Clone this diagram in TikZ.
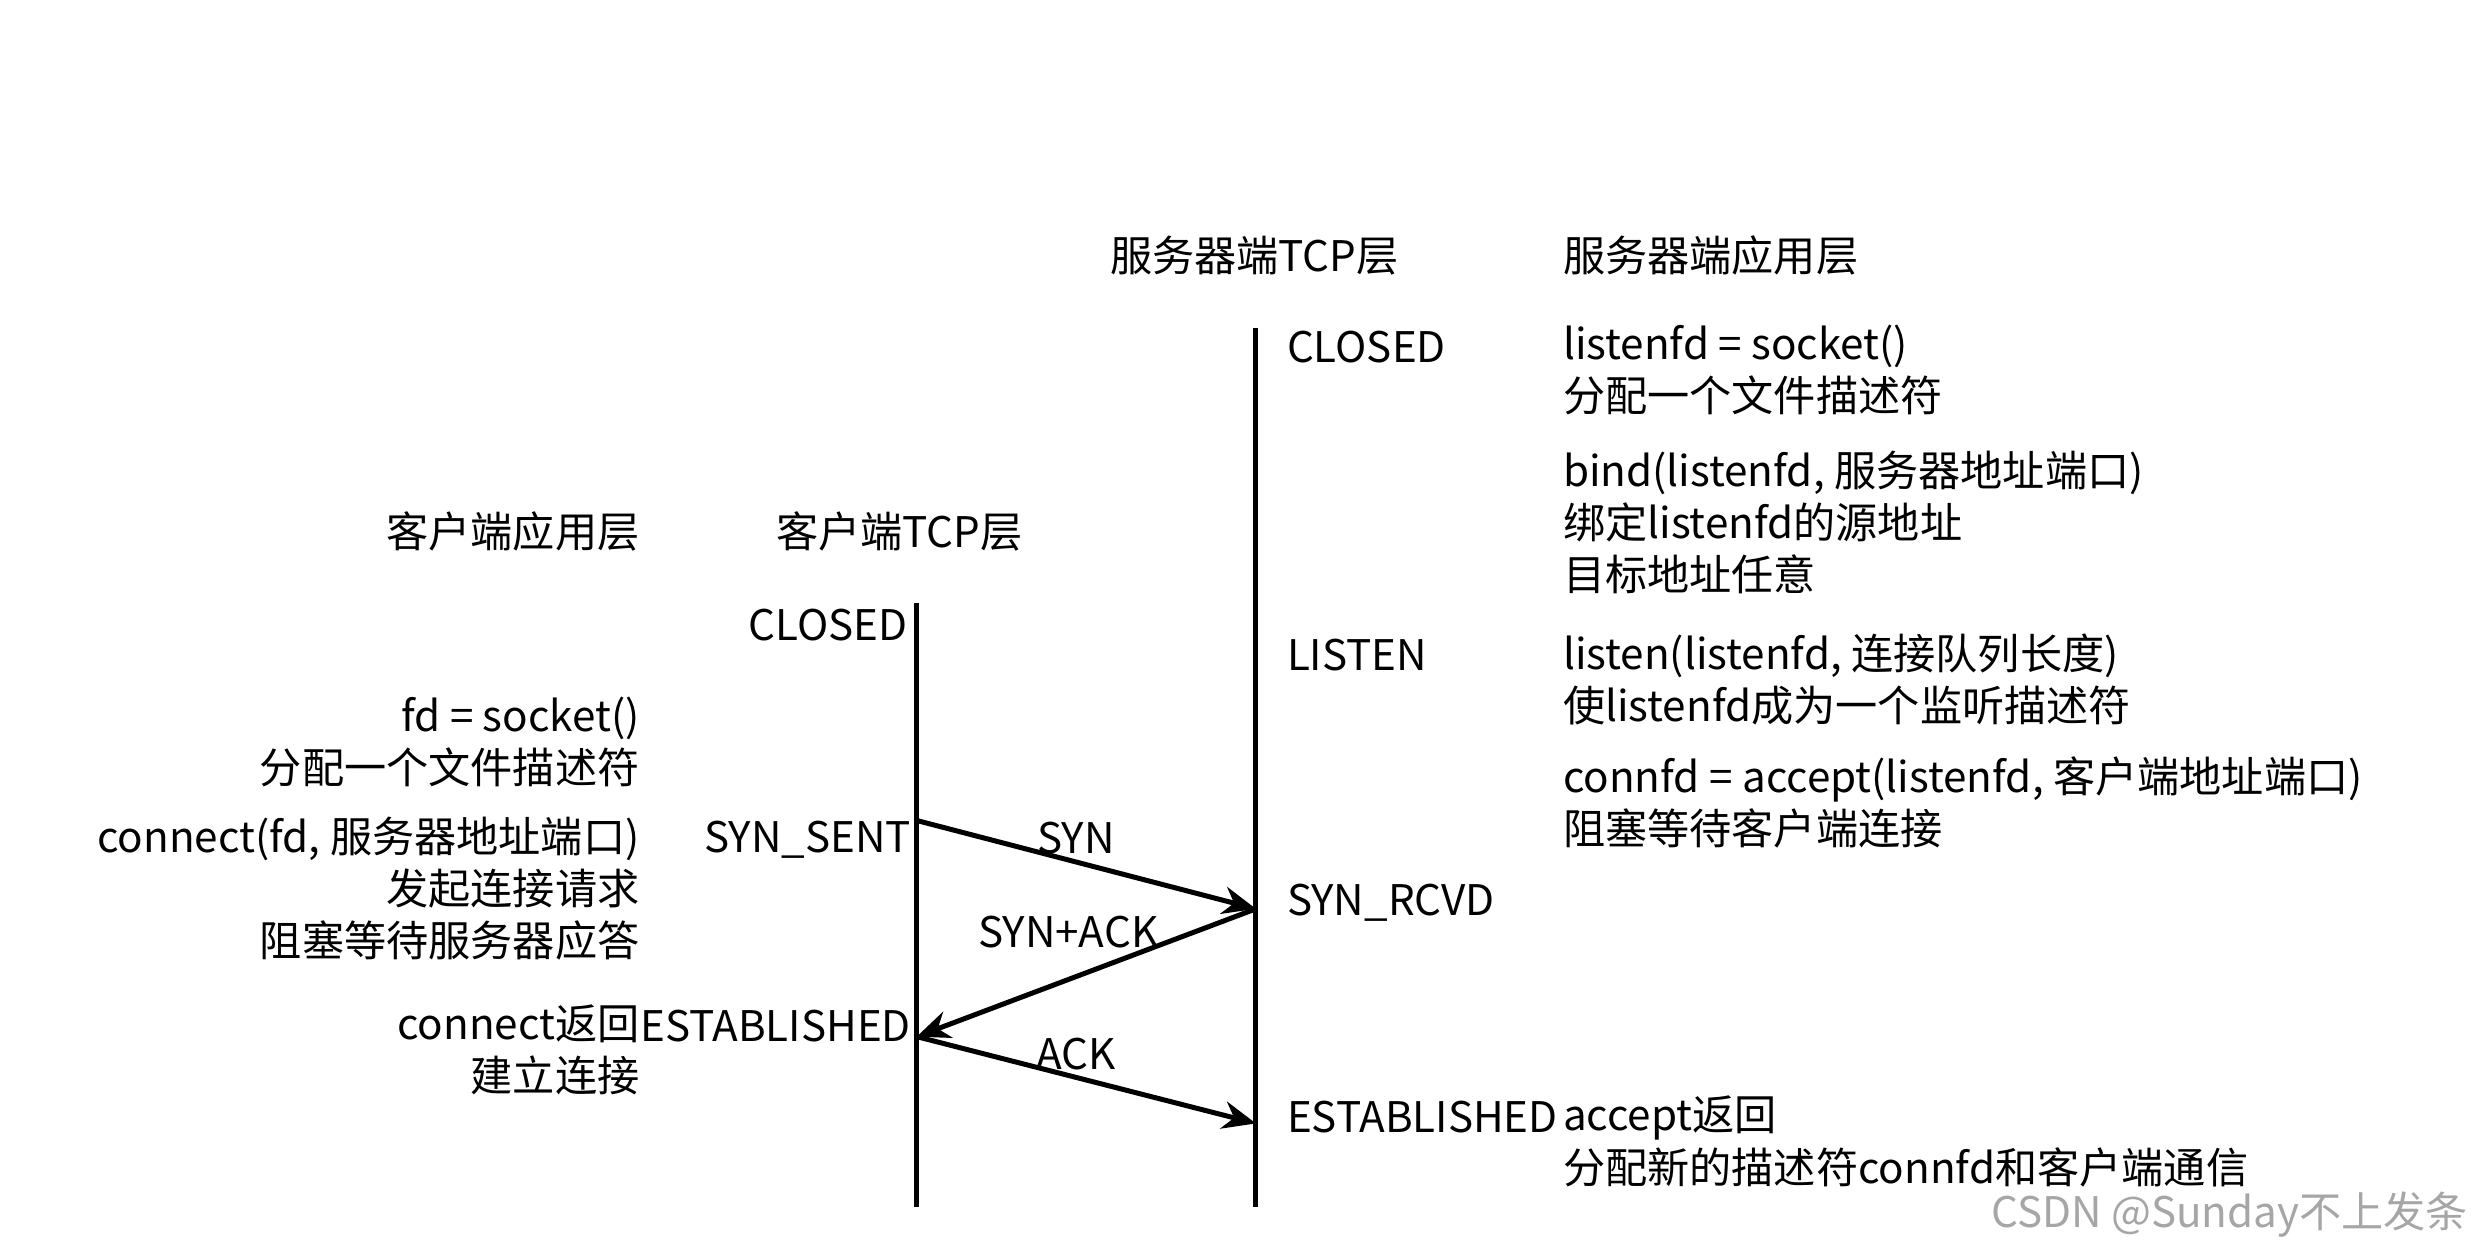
\documentclass[tikz,border=0pt]{standalone}
\usepackage{fontspec}
\setmainfont{Noto Sans CJK SC}
\usetikzlibrary{arrows.meta,positioning}
\tikzset{
  txt/.style={inner sep=0pt, font=\fontsize{7.6}{9.4}\selectfont, align=left},
  txtr/.style={txt, align=right},
  life/.style={line width=0.9pt},
  msg/.style={line width=0.9pt, -{Stealth[length=6pt,width=5pt]}}
}
\begin{document}
\begin{tikzpicture}[x=0.01cm,y=-0.01cm]
  \useasboundingbox (0,0) rectangle (1568,796);
  % lifelines
  \coordinate (ctop) at (581,382); \coordinate (cbot) at (581,765);
  \coordinate (stop) at (796,208); \coordinate (sbot) at (796,765);
  \draw[life] (ctop) -- (cbot);
  \draw[life] (stop) -- (sbot);
  % headers
  \node[txt] (shead) at (795,162) {服务器端TCP层};
  \node[txt, anchor=west] (sapp) at (990,162) {服务器端应用层};
  \node[txt, anchor=east] (capp) at (406,337) {客户端应用层};
  \node[txt] (chead) at (570,337) {客户端TCP层};
  % server states
  \node[txt, anchor=west] (sclosed) at (815,220) {CLOSED};
  \node[txt, anchor=west] (slisten) at (815,415) {LISTEN};
  \node[txt, anchor=west] (srcvd) at (815,572) {SYN\_RCVD};
  \node[txt, anchor=west] (sest) at (815,708) {ESTABLISHED};
  % server calls
  \node[txt, anchor=north west] (socket) at (990,205) {listenfd = socket()\\分配一个文件描述符};
  \node[txt, anchor=north west] (bind) at (990,285) {bind(listenfd, 服务器地址端口)\\绑定listenfd的源地址\\目标地址任意};
  \node[txt, anchor=north west] (listen) at (990,401) {listen(listenfd, 连接队列长度)\\使listenfd成为一个监听描述符};
  \node[txt, anchor=north west] (accept) at (990,479) {connfd = accept(listenfd, 客户端地址端口)\\阻塞等待客户端连接};
  \node[txt, anchor=north west] (accret) at (990,694) {accept返回\\分配新的描述符connfd和客户端通信};
  % client states
  \node[txt, anchor=east] (cclosed) at (576,396) {CLOSED};
  \node[txt, anchor=east] (csent) at (578,532) {SYN\_SENT};
  \node[txt, anchor=east] (cest) at (578,650) {ESTABLISHED};
  % client calls
  \node[txtr, anchor=north east] (fd) at (406,441) {fd = socket()\\分配一个文件描述符};
  \node[txtr, anchor=north east] (conn) at (406,517) {connect(fd, 服务器地址端口)\\发起连接请求\\阻塞等待服务器应答};
  \node[txtr, anchor=north east] (connret) at (406,636) {connect返回\\建立连接};
  % messages
  \coordinate (c1) at (581,520); \coordinate (s1) at (796,576);
  \coordinate (c2) at (581,657); \coordinate (s2) at (796,712);
  \draw[msg] (c1) -- (s1);
  \draw[msg] (s1) -- (c2);
  \draw[msg] (c2) -- (s2);
  \node[txt] (syn) at (682,531) {SYN};
  \node[txt] (synack) at (677,591) {SYN+ACK};
  \node[txt] (ack) at (682,668) {ACK};
  % watermark
  \node[txt, anchor=east, text=gray!70] (wm) at (1565,770) {CSDN @Sunday不上发条};
\end{tikzpicture}
\end{document}
